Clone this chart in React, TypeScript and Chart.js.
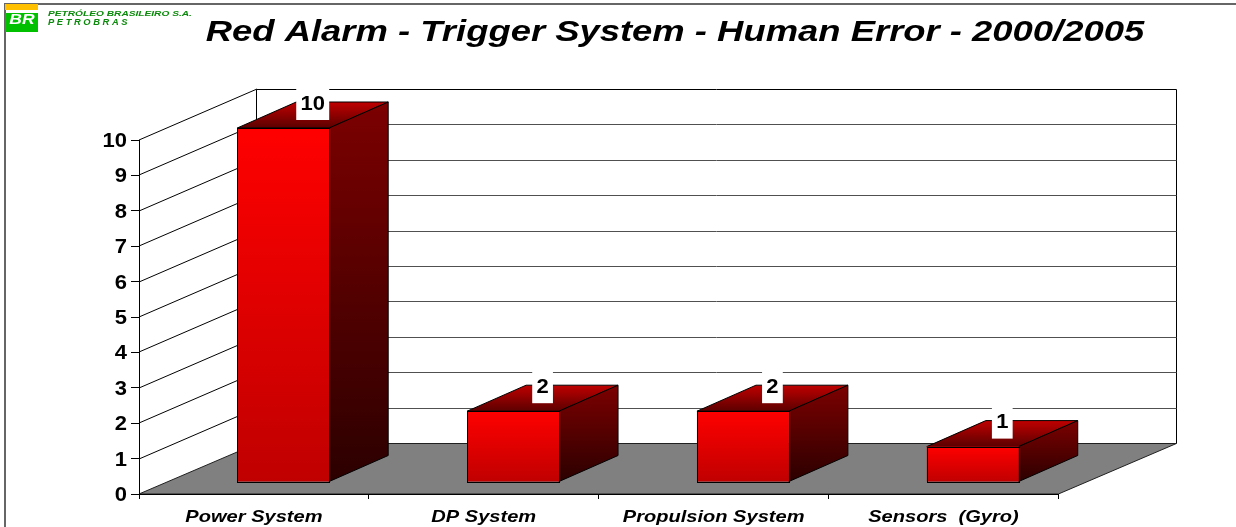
import React, { useEffect, useRef } from "react";
import { Chart, registerables } from "chart.js";

Chart.register(...registerables);

const categories = ["Power System", "DP System", "Propulsion System", "Sensors  (Gyro)"];
const values = [10, 2, 2, 1];
const yTicks = [0, 1, 2, 3, 4, 5, 6, 7, 8, 9, 10];
const chartTitle = "Red Alarm - Trigger System - Human Error - 2000/2005";
const companyLine = "PETRÓLEO BRASILEIRO S.A.";
const brandLine = "P E T R O B R A S";
const logoMark = "BR";
const FONT = '"Liberation Sans", Arial, sans-serif';

const WIDTH = 1236;
const HEIGHT = 527;
const DEPTH_X = 118;
const DEPTH_Y = 51;
const BAR_SHIFT_X = 29.3;
const BAR_SHIFT_Y = 12;
const BAR_DEPTH_X = 59;
const BAR_DEPTH_Y = 26;
const VALUE_STRETCH = 1.1;
const CATEGORY_STRETCH = 1.18;

function stretchedText(ctx: any, text: string, x: number, y: number, sx: number) {
  ctx.save();
  ctx.translate(x, y);
  ctx.scale(sx, 1);
  ctx.fillText(text, 0, 0);
  ctx.restore();
}

function stretchLabels(scale: any, yNudge: number, sx: number) {
  scale.drawLabels = function (chartArea: any) {
    const ctx = scale.ctx;
    for (const item of scale.getLabelItems(chartArea)) {
      const o = item.options;
      ctx.save();
      ctx.translate(o.translation[0], o.translation[1] + yNudge);
      ctx.scale(sx, 1);
      ctx.font = item.font.string;
      ctx.fillStyle = o.color;
      ctx.textAlign = o.textAlign;
      ctx.textBaseline = o.textBaseline;
      ctx.fillText(item.label, 0, item.textOffset);
      ctx.restore();
    }
  };
}

const threeD = {
  id: "threeD",
  afterLayout(chart: any) {
    const tb = chart.titleBlock;
    if (tb) {
      tb.left = 214;
      tb.right = 1136;
      if (!tb.__stretched) {
        tb.__stretched = true;
        const orig = tb.draw;
        tb.draw = function (...a: any[]) {
          const ctx = chart.ctx;
          ctx.save();
          ctx.translate(675, 0);
          ctx.scale(1.214, 1);
          ctx.translate(-675, 0);
          orig.apply(tb, a);
          ctx.restore();
        };
      }
    }
    stretchLabels(chart.scales.x, 0, CATEGORY_STRETCH);
    stretchLabels(chart.scales.y, 1.5, VALUE_STRETCH);
  },
  beforeDraw(chart: any) {
    const { ctx, chartArea: a, scales } = chart;
    const y = scales.y;
    ctx.save();
    ctx.fillStyle = "#ffffff";
    ctx.fillRect(0, 0, WIDTH, HEIGHT);
    // page frame
    ctx.strokeStyle = "#666666";
    ctx.lineWidth = 2;
    ctx.beginPath();
    ctx.moveTo(5, HEIGHT);
    ctx.lineTo(5, 4);
    ctx.lineTo(WIDTH, 4);
    ctx.stroke();
    ctx.restore();
    // floor
    ctx.save();
    const y0 = y.getPixelForValue(0);
    const yBack = Math.round(y0) - DEPTH_Y + 0.5;
    ctx.fillStyle = "#808080";
    ctx.beginPath();
    ctx.moveTo(a.left, y0);
    ctx.lineTo(a.left + DEPTH_X, yBack);
    ctx.lineTo(a.right + DEPTH_X, yBack);
    ctx.lineTo(a.right, y0);
    ctx.closePath();
    ctx.fill();
    ctx.strokeStyle = "#202020";
    ctx.lineWidth = 1;
    ctx.stroke();
    // walls
    ctx.strokeStyle = "#000000";
    ctx.lineWidth = 1;
    const yTop = Math.round(y.getPixelForValue(10)) - DEPTH_Y + 0.5;
    const xl = Math.floor(a.left + DEPTH_X) - 0.5;
    const xr = Math.floor(a.right + DEPTH_X) + 0.5;
    ctx.beginPath();
    ctx.moveTo(xl, yBack);
    ctx.lineTo(xl, yTop);
    ctx.moveTo(xr, yBack);
    ctx.lineTo(xr, yTop);
    ctx.stroke();
    for (const t of yTicks) {
      if (t === 0) continue;
      const py = Math.round(y.getPixelForValue(t));
      ctx.strokeStyle = t === 10 ? "#000000" : "#505050";
      ctx.beginPath();
      ctx.moveTo(xl, py - DEPTH_Y + 0.5);
      ctx.lineTo(xr, py - DEPTH_Y + 0.5);
      ctx.stroke();
      ctx.strokeStyle = "#000000";
      ctx.beginPath();
      ctx.moveTo(a.left, py);
      ctx.lineTo(a.left + DEPTH_X, py - DEPTH_Y);
      ctx.stroke();
    }
    ctx.restore();
  },
  beforeDatasetDraw(chart: any, args: any) {
    const { ctx } = chart;
    const meta = chart.getDatasetMeta(args.index);
    ctx.save();
    ctx.translate(BAR_SHIFT_X, -BAR_SHIFT_Y);
    for (const bar of meta.data) {
      const left = bar.x - bar.width / 2;
      const right = bar.x + bar.width / 2;
      const top = bar.y;
      const base = bar.base;
      // top face
      let g = ctx.createLinearGradient(0, top, 0, top - BAR_DEPTH_Y);
      g.addColorStop(0, "#5c0000");
      g.addColorStop(1, "#c00000");
      ctx.fillStyle = g;
      ctx.strokeStyle = "#000000";
      ctx.lineWidth = 1;
      ctx.beginPath();
      ctx.moveTo(left, top);
      ctx.lineTo(left + BAR_DEPTH_X, top - BAR_DEPTH_Y);
      ctx.lineTo(right + BAR_DEPTH_X, top - BAR_DEPTH_Y);
      ctx.lineTo(right, top);
      ctx.closePath();
      ctx.fill();
      ctx.stroke();
      // side face
      g = ctx.createLinearGradient(0, top - BAR_DEPTH_Y, 0, base);
      g.addColorStop(0, "#7c0000");
      g.addColorStop(1, "#2c0000");
      ctx.fillStyle = g;
      ctx.beginPath();
      ctx.moveTo(right, top);
      ctx.lineTo(right + BAR_DEPTH_X, top - BAR_DEPTH_Y);
      ctx.lineTo(right + BAR_DEPTH_X, base - BAR_DEPTH_Y);
      ctx.lineTo(right, base);
      ctx.closePath();
      ctx.fill();
      ctx.stroke();
    }
  },
  afterDatasetDraw(chart: any, args: any) {
    const { ctx } = chart;
    ctx.restore();
    // crisp outline of the front faces
    const meta = chart.getDatasetMeta(args.index);
    ctx.save();
    ctx.strokeStyle = "#000000";
    ctx.lineWidth = 1;
    for (const bar of meta.data) {
      const l = Math.round(bar.x - bar.width / 2 + BAR_SHIFT_X) + 0.5;
      const r = Math.round(bar.x + bar.width / 2 + BAR_SHIFT_X) + 0.5;
      const t = Math.round(bar.y - BAR_SHIFT_Y) + 0.5;
      const b = Math.round(bar.base - BAR_SHIFT_Y) + 0.5;
      ctx.strokeRect(l, t, r - l, b - t);
    }
    ctx.restore();
  },
  afterDatasetsDraw(chart: any) {
    const { ctx } = chart;
    const meta = chart.getDatasetMeta(0);
    ctx.save();
    ctx.font = `bold 20px ${FONT}`;
    ctx.textAlign = "center";
    ctx.textBaseline = "middle";
    meta.data.forEach((bar: any, i: number) => {
      const label = String(values[i]);
      const cx = bar.x + BAR_SHIFT_X + BAR_DEPTH_X / 2;
      const boxBottom = bar.y - BAR_SHIFT_Y - 8;
      const w = ctx.measureText(label).width * VALUE_STRETCH + 8.5;
      ctx.fillStyle = "#ffffff";
      ctx.fillRect(cx - w / 2, boxBottom - 33, w, 33);
      ctx.fillStyle = "#000000";
      stretchedText(ctx, label, cx, boxBottom - 16, VALUE_STRETCH);
    });
    // logo
    ctx.fillStyle = "#ffc000";
    ctx.fillRect(5, 4, 33, 6);
    ctx.fillStyle = "#00c000";
    ctx.fillRect(5, 13, 33, 19);
    ctx.fillStyle = "#ffffff";
    ctx.font = `italic bold 14px ${FONT}`;
    stretchedText(ctx, logoMark, 22, 20.5, 1.25);
    ctx.fillStyle = "#0a8a0a";
    ctx.textAlign = "left";
    ctx.font = `italic bold 8px ${FONT}`;
    stretchedText(ctx, companyLine, 48, 14, 1.27);
    ctx.font = `italic bold 8.5px ${FONT}`;
    stretchedText(ctx, brandLine, 48, 22.5, 1.1);
    ctx.restore();
  },
};

export default function App() {
  const ref = useRef<HTMLCanvasElement>(null);
  useEffect(() => {
    const canvas = ref.current!;
    const chart = new Chart(canvas, {
      type: "bar",
      data: {
        labels: categories,
        datasets: [
          {
            data: values,
            barPercentage: 0.4,
            categoryPercentage: 1,
            borderWidth: 0,
            borderSkipped: false,
            clip: false,
            backgroundColor: (c: any) => {
              const s = c.chart.scales.y;
              const top = s ? s.getPixelForValue(values[c.dataIndex]) : NaN;
              const base = s ? s.getPixelForValue(0) : NaN;
              if (!Number.isFinite(top) || !Number.isFinite(base)) return "#ff0000";
              const gr = c.chart.ctx.createLinearGradient(0, top, 0, base);
              gr.addColorStop(0, "#ff0000");
              gr.addColorStop(1, "#c00000");
              return gr;
            },
          } as any,
        ],
      },
      options: {
        responsive: false,
        animation: false,
        layout: { padding: { left: 0, right: 177.6, top: 0, bottom: 0 } },
        plugins: {
          legend: { display: false },
          tooltip: { enabled: false },
          title: {
            display: true,
            text: chartTitle,
            color: "#000000",
            font: { family: FONT, size: 30, weight: "bold", style: "italic", lineHeight: 1.2 },
            padding: { top: 15, bottom: 89 },
          },
        },
        scales: {
          x: {
            afterFit: (s: any) => {
              s.height = 33;
            },
            grid: { drawOnChartArea: false, drawTicks: true, tickLength: 5, color: "#000000" },
            border: { color: "#000000", width: 1 },
            ticks: {
              color: "#000000",
              padding: 8,
              maxRotation: 0,
              font: { family: FONT, size: 17, weight: "bold", style: "italic" },
            },
          },
          y: {
            min: 0,
            max: 10,
            afterFit: (s: any) => {
              s.width = 139;
            },
            afterBuildTicks: (s: any) => {
              s.ticks = yTicks.map((v) => ({ value: v }));
            },
            grid: { drawOnChartArea: false, drawTicks: true, tickLength: 8, color: "#000000" },
            border: { color: "#000000", width: 1 },
            ticks: {
              color: "#000000",
              padding: 4,
              font: { family: FONT, size: 20, weight: "bold" },
            },
          },
        },
      },
      plugins: [threeD],
    } as any);
    return () => chart.destroy();
  }, []);
  return (
    <canvas
      ref={ref}
      width={WIDTH}
      height={HEIGHT}
      style={{ position: "fixed", left: 0, top: 0, width: WIDTH, height: HEIGHT }}
    />
  );
}
